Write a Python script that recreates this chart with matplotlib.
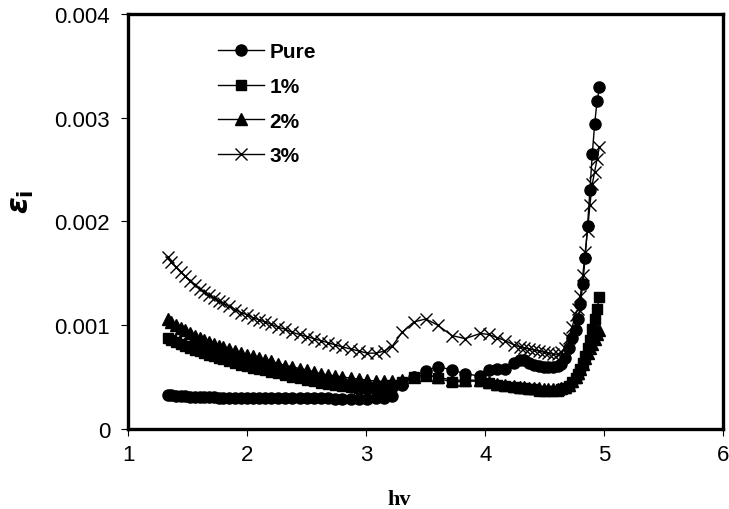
import matplotlib
matplotlib.use('Agg')
import matplotlib.pyplot as plt
from matplotlib.ticker import FormatStrFormatter

plt.rcParams['mathtext.fontset'] = 'custom'
plt.rcParams['mathtext.it'] = 'DejaVu Sans:italic:bold'
plt.rcParams['mathtext.rm'] = 'DejaVu Sans:bold'

# photon energy (eV)
hv = [1.33, 1.36, 1.40, 1.44, 1.48, 1.52, 1.56, 1.60, 1.64, 1.68,
      1.72, 1.76, 1.80, 1.85, 1.90, 1.95, 2.00, 2.05, 2.10, 2.15,
      2.20, 2.26, 2.32, 2.38, 2.44, 2.50, 2.56, 2.62, 2.68, 2.74,
      2.80, 2.87, 2.94, 3.01, 3.08, 3.15, 3.22, 3.30, 3.40, 3.50,
      3.60, 3.72, 3.83, 3.96, 4.03, 4.10, 4.17, 4.24, 4.29, 4.33,
      4.37, 4.41, 4.45, 4.49, 4.53, 4.57, 4.61, 4.64, 4.67, 4.70,
      4.73, 4.76, 4.78, 4.80, 4.82, 4.84, 4.86, 4.88, 4.90, 4.92,
      4.94, 4.96]

# imaginary part of dielectric constant
eps_pure = [0.000330, 0.000325, 0.000320, 0.000316, 0.000313, 0.000310, 0.000308, 0.000306, 0.000305, 0.000304,
            0.000303, 0.000302, 0.000301, 0.000300, 0.000300, 0.000300, 0.000300, 0.000299, 0.000299, 0.000298,
            0.000298, 0.000297, 0.000297, 0.000296, 0.000296, 0.000295, 0.000295, 0.000294, 0.000294, 0.000293,
            0.000293, 0.000292, 0.000292, 0.000293, 0.000296, 0.000302, 0.000320, 0.000420, 0.000500, 0.000560,
            0.000600, 0.000570, 0.000530, 0.000510, 0.000570, 0.000580, 0.000580, 0.000640, 0.000660, 0.000660,
            0.000640, 0.000620, 0.000610, 0.000600, 0.000600, 0.000600, 0.000610, 0.000630, 0.000680, 0.000780,
            0.000880, 0.000950, 0.001060, 0.001200, 0.001400, 0.001650, 0.001960, 0.002300, 0.002650, 0.002940,
            0.003160, 0.003290]

eps_1 = [0.000880, 0.000860, 0.000840, 0.000820, 0.000800, 0.000780, 0.000760, 0.000750, 0.000730, 0.000710,
         0.000700, 0.000680, 0.000670, 0.000650, 0.000640, 0.000620, 0.000610, 0.000590, 0.000580, 0.000570,
         0.000550, 0.000540, 0.000520, 0.000500, 0.000490, 0.000470, 0.000460, 0.000440, 0.000430, 0.000420,
         0.000410, 0.000400, 0.000390, 0.000390, 0.000390, 0.000400, 0.000420, 0.000450, 0.000500, 0.000530,
         0.000490, 0.000450, 0.000460, 0.000460, 0.000440, 0.000420, 0.000410, 0.000400, 0.000390, 0.000390,
         0.000380, 0.000380, 0.000370, 0.000370, 0.000370, 0.000370, 0.000370, 0.000380, 0.000390, 0.000410,
         0.000450, 0.000490, 0.000530, 0.000580, 0.000640, 0.000700, 0.000780, 0.000860, 0.000960, 0.001060,
         0.001160, 0.001270]

eps_2 = [0.001060, 0.001030, 0.001000, 0.000970, 0.000950, 0.000920, 0.000900, 0.000880, 0.000860, 0.000840,
         0.000820, 0.000800, 0.000790, 0.000770, 0.000750, 0.000730, 0.000710, 0.000700, 0.000680, 0.000660,
         0.000650, 0.000630, 0.000610, 0.000600, 0.000580, 0.000570, 0.000550, 0.000530, 0.000520, 0.000510,
         0.000500, 0.000490, 0.000480, 0.000470, 0.000460, 0.000460, 0.000460, 0.000470, 0.000500, 0.000520,
         0.000500, 0.000470, 0.000470, 0.000470, 0.000450, 0.000430, 0.000420, 0.000410, 0.000400, 0.000400,
         0.000390, 0.000390, 0.000390, 0.000380, 0.000380, 0.000380, 0.000380, 0.000390, 0.000400, 0.000420,
         0.000460, 0.000500, 0.000540, 0.000580, 0.000630, 0.000680, 0.000730, 0.000780, 0.000820, 0.000870,
         0.000910, 0.000950]

eps_3 = [0.001660, 0.001610, 0.001560, 0.001510, 0.001470, 0.001430, 0.001390, 0.001350, 0.001320, 0.001290,
         0.001260, 0.001230, 0.001210, 0.001180, 0.001150, 0.001120, 0.001100, 0.001070, 0.001050, 0.001030,
         0.001010, 0.000980, 0.000960, 0.000930, 0.000910, 0.000890, 0.000870, 0.000850, 0.000830, 0.000810,
         0.000790, 0.000770, 0.000750, 0.000730, 0.000730, 0.000750, 0.000800, 0.000930, 0.001030, 0.001060,
         0.001000, 0.000900, 0.000870, 0.000920, 0.000910, 0.000880, 0.000850, 0.000810, 0.000790, 0.000780,
         0.000770, 0.000760, 0.000750, 0.000740, 0.000730, 0.000720, 0.000720, 0.000740, 0.000780, 0.000880,
         0.000980, 0.001100, 0.001160, 0.001280, 0.001480, 0.001700, 0.001910, 0.002160, 0.002360, 0.002480,
         0.002600, 0.002720]

labels = ['Pure', '1%', '2%', '3%']

fig = plt.figure(figsize=(7.29, 5.10), dpi=100)
ax = fig.add_axes([0.176, 0.157, 0.816, 0.814])

ax.plot(hv, eps_pure, color='black', lw=1, marker='o', ms=8, label=labels[0])
ax.plot(hv, eps_1, color='black', lw=1, marker='s', ms=7, label=labels[1])
ax.plot(hv, eps_2, color='black', lw=1, marker='^', ms=8.5, label=labels[2])
ax.plot(hv, eps_3, color='black', lw=1, marker='x', ms=8.5, mew=1, label=labels[3])

ax.set_xlim(1, 6)
ax.set_ylim(0, 0.004)
ax.set_xticks([1, 2, 3, 4, 5, 6])
ax.set_yticks([0, 0.001, 0.002, 0.003, 0.004])
ax.yaxis.set_major_formatter(FormatStrFormatter('%g'))

for s in ax.spines.values():
    s.set_linewidth(2.4)
ax.tick_params(direction='out', length=5, width=0.8, labelsize=16)
ax.tick_params(axis='x', pad=6)
ax.tick_params(axis='y', pad=8)
for t in ax.get_xticklabels() + ax.get_yticklabels():
    t.set_fontfamily('Liberation Sans')

ax.set_xlabel('hv', fontfamily='Liberation Serif', fontweight='bold', fontsize=16)
ax.xaxis.set_label_coords(0.455, -0.145)
ax.set_ylabel(r'$\varepsilon_\mathrm{i}$', fontsize=22)
ax.yaxis.set_label_coords(-0.155, 0.55)

ax.legend(loc='upper left', bbox_to_anchor=(0.15, 0.931), frameon=False,
          borderpad=0, borderaxespad=0,
          handlelength=2.25, handletextpad=0.25, labelspacing=0.75,
          prop={'family': 'Liberation Sans', 'weight': 'bold', 'size': 15})

fig.savefig('out.png', dpi=100)
